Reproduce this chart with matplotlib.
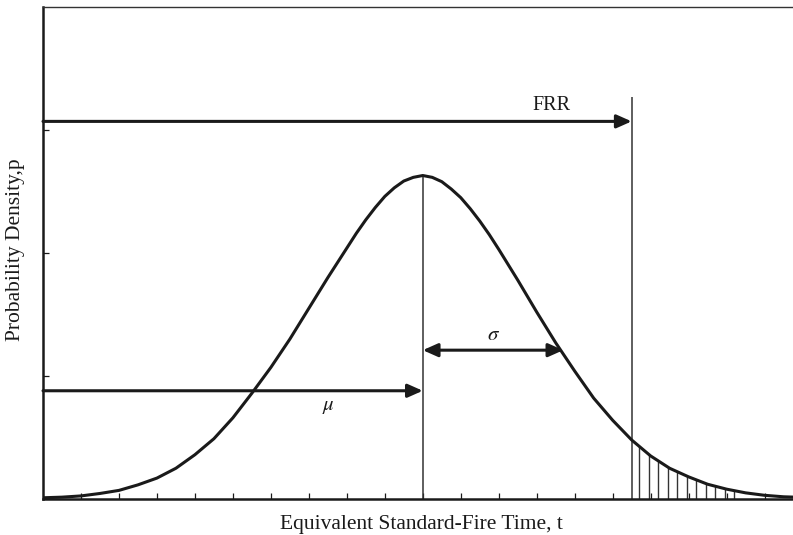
import numpy as np
import matplotlib
matplotlib.use("Agg")
import matplotlib.pyplot as plt

plt.rcParams["font.family"] = ["Liberation Serif", "DejaVu Serif"]
plt.rcParams["mathtext.fontset"] = "stix"

# Probability density curve of the equivalent standard-fire time
t_vals = [0.0, 0.5, 1.0, 1.5, 2.0, 2.5, 3.0, 3.5, 4.0, 4.5, 5.0, 5.5, 6.0, 6.5,
          7.0, 7.5, 8.0, 8.25, 8.5, 8.75, 9.0, 9.25, 9.5, 9.75, 10.0, 10.25,
          10.5, 10.75, 11.0, 11.25, 11.5, 11.75, 12.0, 12.5,
          13.0, 13.5, 14.0, 14.5, 15.0, 15.5, 16.0, 16.5, 17.0, 17.5, 18.0,
          18.5, 19.0, 19.5, 19.8]
p_vals = [0.01, 0.015, 0.025, 0.045, 0.07, 0.115, 0.17, 0.25, 0.36, 0.49, 0.66,
          0.86, 1.07, 1.30, 1.55, 1.80, 2.04, 2.16, 2.27, 2.37, 2.46, 2.53,
          2.585, 2.615, 2.63, 2.615, 2.58, 2.52, 2.45, 2.36, 2.26, 2.15,
          2.03, 1.78, 1.52, 1.27, 1.04, 0.82, 0.64, 0.48, 0.35,
          0.25, 0.18, 0.12, 0.08, 0.05, 0.03, 0.018, 0.015]

mu = 10.0          # mean
sigma_end = 13.7   # end of the sigma arrow
frr = 15.5         # fire resistance rating
hatch_t = [15.7, 15.95, 16.2, 16.45, 16.7, 16.95, 17.2, 17.45, 17.7, 17.95, 18.2]

frr_arrow_y = 3.07
sigma_arrow_y = 1.21
mu_arrow_y = 0.88
frr_line_top = 3.27

W, H = 793, 535
fig = plt.figure(figsize=(W / 100, H / 100), dpi=100)
ax = fig.add_axes([43 / W, 1 - 499 / H, (W - 43) / W + 0.002, (499 - 7) / H])
ax.set_xlim(0, 19.79)
ax.set_ylim(0, 4.0)

ink = "#1a1a1a"
ax.plot(t_vals, p_vals, color=ink, lw=2.2, solid_capstyle="round",
        solid_joinstyle="round", zorder=3)

peak = p_vals[t_vals.index(mu)]
ax.vlines(mu, 0, peak, color="#333333", lw=1.1)
ax.vlines(frr, 0, frr_line_top, color="#333333", lw=1.1)
ax.vlines(hatch_t, 0, np.interp(hatch_t, t_vals, p_vals), color="#333333", lw=1.0)

head = "-|>,head_length=0.45,head_width=0.2"
ax.annotate("", xy=(frr, frr_arrow_y), xytext=(0, frr_arrow_y),
            arrowprops=dict(arrowstyle=head, lw=2.2, color=ink, mutation_scale=20,
                            shrinkA=0, shrinkB=0))
ax.annotate("", xy=(mu, mu_arrow_y), xytext=(0, mu_arrow_y),
            arrowprops=dict(arrowstyle=head, lw=2.2, color=ink, mutation_scale=20,
                            shrinkA=0, shrinkB=0))
ax.annotate("", xy=(sigma_end, sigma_arrow_y), xytext=(mu, sigma_arrow_y),
            arrowprops=dict(arrowstyle="<|-|>,head_length=0.45,head_width=0.2",
                            lw=2.2, color=ink, mutation_scale=20,
                            shrinkA=0, shrinkB=0))

ax.text(13.38, 3.2, "FRR", ha="center", va="center", fontsize=14.5, color=ink)
ax.text(11.85, 1.33, r"$\sigma$", ha="center", va="center", fontsize=15, color=ink)
ax.text(7.52, 0.75, r"$\mu$", ha="center", va="center", fontsize=15, color=ink)

ax.set_xticks(np.arange(1, 20))
ax.set_yticks([1, 2, 3])
ax.tick_params(direction="in", length=4, width=0.9, color=ink,
               labelbottom=False, labelleft=False)
for side in ("left", "bottom"):
    ax.spines[side].set_linewidth(1.8)
    ax.spines[side].set_color(ink)
ax.spines["top"].set_linewidth(1.0)
ax.spines["top"].set_color("#333333")
ax.spines["right"].set_visible(False)

fig.text(421 / W, 1 - 525 / H, "Equivalent Standard-Fire Time, t",
         ha="center", va="center", fontsize=15.5, color=ink)
fig.text(16 / W, 1 - 250 / H, "Probability Density,p", rotation=90,
         ha="center", va="center", fontsize=15.5, color=ink)

fig.savefig("out.png", dpi=100)
